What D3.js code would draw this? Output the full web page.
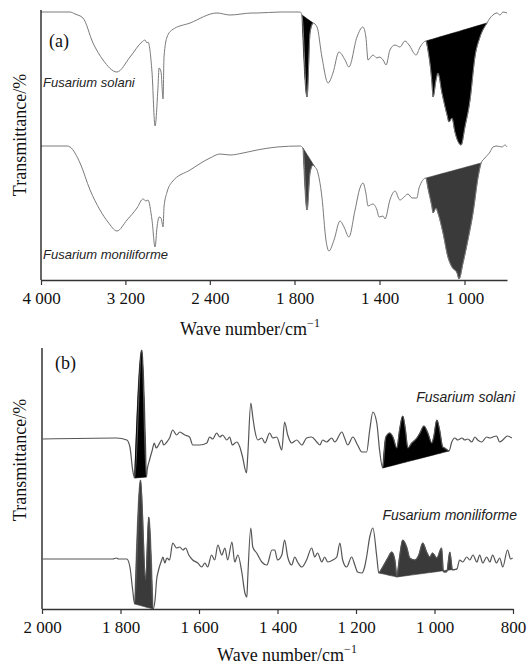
<!DOCTYPE html>
<html>
<head>
<meta charset="utf-8">
<script src="https://cdn.jsdelivr.net/npm/d3@7"></script>
<style>
  body { margin: 0; background: #fff; }
  svg text { font-family: "Liberation Serif", "Times New Roman", serif; }
  .species { font-family: "Liberation Sans", Arial, sans-serif; font-style: italic; }
</style>
</head>
<body>
<div id="chart"></div>
<script>
/* Data: [wave number (cm-1), transmittance (arbitrary, offset per trace)] */

// panel (a)
var ticksA = [4000, 3200, 2400, 1800, 1400, 1000];
var solaniA = [[4000,268],[3725,268],[3678,266],[3602,262],[3507,237],[3412,220],[3280,208],[3156,223],[3043,238],[3014,240],[2995,237],[2986,238],[2948,208],[2919,154],[2891,193],[2881,212],[2862,208],[2843,181],[2834,223],[2805,243],[2758,250],[2587,257],[2332,267],[2208,265],[2000,267],[1976,267],[1868,268],[1774,268],[1765,265],[1741,183],[1727,247],[1713,257],[1694,253],[1671,223],[1642,197],[1619,207],[1591,228],[1562,220],[1544,213],[1506,243],[1478,253],[1464,243],[1454,220],[1431,225],[1412,222],[1402,223],[1383,220],[1369,215],[1351,230],[1327,235],[1304,233],[1280,239],[1261,235],[1228,225],[1209,233],[1181,239],[1172,230],[1153,197],[1148,183],[1134,200],[1125,207],[1106,187],[1082,165],[1073,158],[1059,162],[1045,148],[1016,135],[998,153],[974,180],[951,223],[927,243],[894,257],[880,262],[866,265],[847,267],[833,265],[819,268],[800,267]];
var moniliformeA = [[4000,134],[3754,134],[3725,133],[3630,117],[3535,90],[3441,70],[3365,58],[3280,49],[3185,60],[3090,72],[3033,81],[3005,79],[2986,80],[2948,60],[2919,33],[2900,53],[2881,63],[2862,62],[2843,53],[2834,73],[2805,88],[2758,98],[2587,110],[2398,122],[2303,126],[2208,125],[2085,127],[1976,130],[1882,133],[1774,134],[1760,132],[1741,70],[1727,107],[1713,115],[1704,113],[1694,110],[1671,83],[1652,40],[1638,29],[1614,40],[1586,59],[1567,53],[1544,43],[1515,70],[1492,92],[1478,97],[1464,87],[1454,74],[1431,76],[1412,70],[1402,63],[1383,64],[1374,61],[1351,80],[1327,89],[1304,80],[1289,82],[1266,86],[1247,82],[1224,82],[1214,92],[1181,102],[1172,92],[1153,73],[1148,67],[1134,72],[1125,67],[1101,47],[1078,23],[1059,13],[1035,7],[1026,1],[1007,17],[984,40],[960,67],[936,103],[922,117],[904,122],[880,128],[866,133],[847,134],[824,133],[809,135],[800,133]];
var fillsSolaniA = [[1765,1713],[1181,894]];
var fillsMoniliformeA = [[1760,1704],[1181,922]];

// panel (b)
var ticksB = [2000, 1800, 1600, 1400, 1200, 1000, 800];
var solaniB = [[1998,170],[1810,171],[1784,169],[1776,162],[1769,139],[1764,131],[1746,259],[1734,132],[1732,139],[1726,149],[1719,159],[1714,166],[1709,161],[1703,164],[1695,169],[1690,164],[1682,167],[1675,171],[1667,179],[1657,174],[1649,177],[1636,174],[1624,172],[1616,164],[1598,164],[1580,166],[1573,172],[1565,170],[1555,176],[1547,172],[1540,174],[1529,169],[1522,172],[1515,164],[1504,167],[1496,162],[1489,152],[1479,136],[1476,152],[1468,206],[1463,192],[1458,179],[1450,169],[1440,171],[1432,166],[1420,176],[1412,171],[1402,172],[1389,159],[1382,187],[1374,174],[1364,166],[1351,169],[1338,164],[1326,171],[1313,172],[1300,167],[1292,164],[1285,169],[1275,167],[1262,171],[1254,167],[1236,177],[1229,171],[1221,164],[1208,172],[1196,164],[1185,157],[1173,157],[1165,179],[1157,197],[1147,186],[1140,159],[1132,141],[1124,172],[1114,176],[1106,172],[1096,161],[1089,179],[1081,193],[1074,179],[1068,161],[1058,166],[1045,171],[1037,176],[1027,183],[1017,176],[1007,166],[1002,172],[994,189],[987,179],[979,162],[974,161],[963,158],[956,167],[948,171],[941,169],[930,171],[923,169],[915,170],[905,167],[897,172],[890,169],[880,167],[867,172],[859,171],[852,172],[842,173],[834,167],[826,169],[814,173],[803,171]];
var moniliformeB = [[1998,50],[1820,50],[1810,51],[1805,50],[1784,50],[1776,42],[1769,19],[1764,5],[1749,129],[1736,29],[1728,92],[1717,0],[1712,9],[1708,29],[1703,39],[1695,49],[1692,52],[1687,46],[1682,51],[1675,49],[1667,66],[1657,61],[1649,62],[1641,59],[1634,61],[1626,54],[1616,49],[1603,46],[1593,42],[1585,46],[1578,42],[1568,54],[1560,49],[1552,64],[1542,54],[1534,61],[1527,49],[1516,67],[1509,47],[1501,54],[1491,37],[1483,16],[1478,12],[1476,29],[1468,81],[1463,62],[1453,56],[1440,47],[1427,44],[1414,59],[1407,59],[1400,49],[1389,54],[1382,69],[1374,52],[1364,44],[1356,52],[1349,47],[1338,42],[1326,49],[1313,61],[1305,52],[1298,56],[1287,47],[1280,52],[1272,47],[1259,49],[1249,52],[1241,66],[1234,49],[1224,42],[1211,52],[1203,44],[1196,37],[1185,36],[1178,42],[1173,52],[1165,72],[1157,81],[1147,52],[1142,36],[1132,42],[1119,51],[1109,57],[1101,49],[1096,32],[1089,52],[1081,69],[1071,62],[1063,51],[1050,49],[1040,54],[1030,66],[1020,57],[1012,52],[1005,56],[994,51],[982,61],[977,37],[969,37],[961,57],[954,39],[943,40],[936,49],[928,47],[918,52],[910,49],[902,54],[892,47],[885,54],[877,46],[867,52],[859,47],[852,54],[842,46],[834,51],[826,42],[814,59],[806,50],[801,51]];
var fillsSolaniB = [[1764,1734],[1132,963]];
var fillsMoniliformeB = [[1764,1717],[1142,1096],[1096,943]];

var W = 530, H = 667;
var svg = d3.select("#chart").append("svg").attr("width", W).attr("height", H);

var fmt = function (d) { return d3.format(",")(d).replace(",", " "); };

function drawPanel(opt) {
    var g = svg.append("g");
    var x = d3.scaleLinear().domain(opt.xDomain).range(opt.xRange);
    var y = d3.scaleLinear().domain(opt.yDomain).range([opt.bottom, opt.top]);

    var line = d3.line()
        .x(function (d) { return x(d[0]); })
        .y(function (d) { return y(d[1]); })
        .curve(d3.curveMonotoneX);

    opt.traces.forEach(function (t) {
        // filled bands: between the curve and a straight chord across the band
        t.fills.forEach(function (f) {
            var seg = t.data.filter(function (d) { return d[0] <= f[0] && d[0] >= f[1]; });
            var a = seg[0], b = seg[seg.length - 1];
            var area = d3.area()
                .x(function (d) { return x(d[0]); })
                .y1(function (d) { return y(d[1]); })
                .y0(function (d) { return y(a[1] + (b[1] - a[1]) * (d[0] - a[0]) / (b[0] - a[0])); })
                .curve(d3.curveMonotoneX);
            g.append("path").datum(seg).attr("d", area)
                .attr("fill", t.fill).attr("stroke", t.fill).attr("stroke-width", 0.6);
        });
        g.append("path").datum(t.data).attr("d", line)
            .attr("fill", "none").attr("stroke", opt.lineColor).attr("stroke-width", opt.lineWidth);
    });

    // axes
    var xAxis = d3.axisBottom(x).tickValues(opt.ticks).tickFormat(fmt).tickSize(5).tickSizeOuter(0);
    var ax = g.append("g").attr("transform", "translate(0," + opt.bottom + ")").call(xAxis);
    ax.select(".domain").attr("stroke", "#333").attr("stroke-width", 1.5);
    ax.selectAll(".tick line").attr("stroke", "#333").attr("stroke-width", 1.2);
    ax.selectAll(".tick text").attr("font-size", 17).attr("fill", "#111")
        .attr("font-family", "Liberation Serif, serif").attr("dy", "0.95em");

    g.append("line").attr("x1", opt.xRange[0]).attr("x2", opt.xRange[0])
        .attr("y1", opt.top).attr("y2", opt.bottom)
        .attr("stroke", "#333").attr("stroke-width", 1.5);

    // titles
    var xt = g.append("text").attr("x", opt.xTitleX).attr("y", opt.xTitleY)
        .attr("text-anchor", "middle").attr("font-size", 18).attr("fill", "#111")
        .text("Wave number/cm");
    xt.append("tspan").attr("font-size", 12).attr("dy", -8).text("\u22121");

    g.append("text")
        .attr("transform", "translate(26," + opt.yTitleY + ") rotate(-90)")
        .attr("text-anchor", "middle").attr("font-size", 18).attr("fill", "#111")
        .text("Transmittance/%");

    g.append("text").attr("x", opt.tagX).attr("y", opt.tagY)
        .attr("font-size", 18).attr("fill", "#111").text(opt.tag);

    opt.labels.forEach(function (l) {
        g.append("text").attr("class", "species")
            .attr("x", l.x).attr("y", l.y).attr("text-anchor", l.anchor)
            .attr("font-size", l.size).attr("fill", "#222").text(l.text);
    });
}

drawPanel({
    xDomain: [4000, 2000, 800], xRange: [41, 252, 507],
    yDomain: [0, 270], top: 10, bottom: 280,
    ticks: ticksA, lineColor: "#7a7a7a", lineWidth: 1,
    traces: [
        { data: solaniA, fills: fillsSolaniA, fill: "#000" },
        { data: moniliformeA, fills: fillsMoniliformeA, fill: "#3a3a3a" }
    ],
    xTitleX: 250, xTitleY: 335, yTitleY: 135,
    tag: "(a)", tagX: 49, tagY: 47,
    labels: [
        { text: "Fusarium solani", x: 43, y: 87, anchor: "start", size: 13 },
        { text: "Fusarium moniliforme", x: 43, y: 259, anchor: "start", size: 13 }
    ]
});

drawPanel({
    xDomain: [2000, 800], xRange: [42, 513],
    yDomain: [0, 261], top: 348, bottom: 609,
    ticks: ticksB, lineColor: "#555", lineWidth: 1.2,
    traces: [
        { data: solaniB, fills: fillsSolaniB, fill: "#000" },
        { data: moniliformeB, fills: fillsMoniliformeB, fill: "#3a3a3a" }
    ],
    xTitleX: 287, xTitleY: 661, yTitleY: 460,
    tag: "(b)", tagX: 55, tagY: 369,
    labels: [
        { text: "Fusarium solani", x: 515, y: 402, anchor: "end", size: 14 },
        { text: "Fusarium moniliforme", x: 517, y: 520, anchor: "end", size: 14 }
    ]
});
</script>
</body>
</html>
